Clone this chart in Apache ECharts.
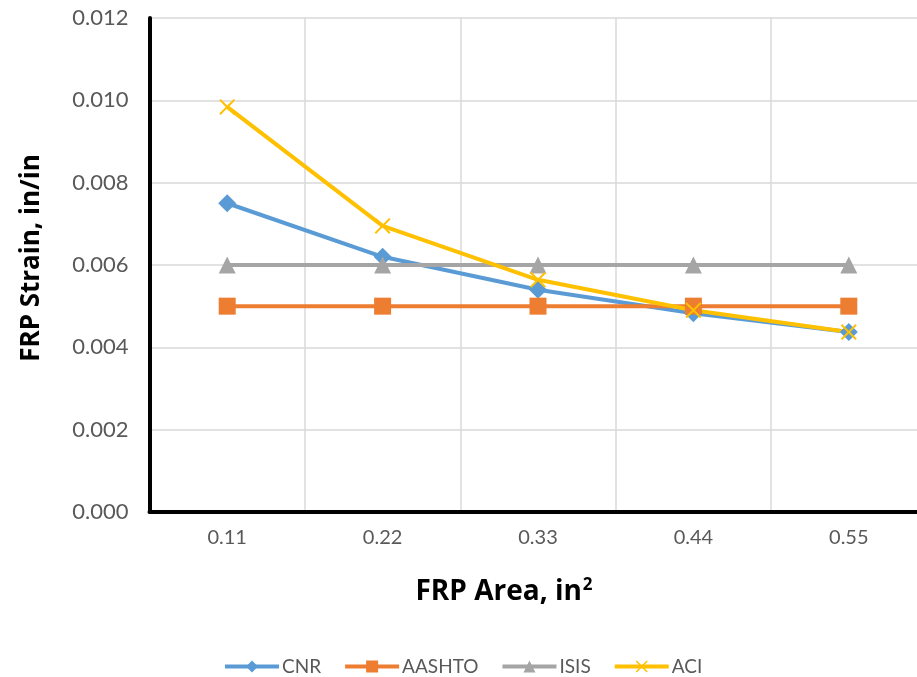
<!DOCTYPE html>
<html><head><meta charset="utf-8">
<script src="https://cdn.jsdelivr.net/npm/echarts@6/dist/echarts.min.js"></script>
<style>html,body{margin:0;padding:0;background:#fff;overflow:hidden}#c{width:930px;height:677px}</style>
</head><body><div id="c"></div>
<script>
const categories = ["0.11", "0.22", "0.33", "0.44", "0.55"];
const cnr = [0.0075, 0.0062, 0.0054, 0.00483, 0.00437];
const aashto = [0.005, 0.005, 0.005, 0.005, 0.005];
const isis = [0.006, 0.006, 0.006, 0.006, 0.006];
const aci = [0.00984, 0.00695, 0.00564, 0.0049, 0.00437];
const yTicks = [0, 0.002, 0.004, 0.006, 0.008, 0.010, 0.012];

const F = "Lato, 'Open Sans', sans-serif";
const T = "'Open Sans', Lato, sans-serif";
const xPath = 'path://M0,0.9L0.9,0L5,4.1L9.1,0L10,0.9L5.9,5L10,9.1L9.1,10L5,5.9L0.9,10L0,9.1L4.1,5Z';

const chart = echarts.init(document.getElementById('c'), null, {renderer: 'canvas'});
function mk(name, data, color, symbol, size) {
  return {
    name, type: 'line', data, symbol, symbolSize: size,
    lineStyle: {color, width: 4},
    itemStyle: {color, opacity: 1},
    emphasis: {disabled: true},
    animation: false
  };
}
chart.setOption({
  animation: false,
  textStyle: {fontFamily: F},
  grid: {left: 149.5, right: 3.5, top: 18, bottom: 165, containLabel: false},
  legend: {
    top: 652, left: 218, itemWidth: 54, itemHeight: 15, itemGap: 22,
    lineStyle: {width: 4},
    textStyle: {fontFamily: F, fontSize: 19, color: '#595959', padding: [0, 0, 0, -2]},
    data: ['CNR', 'AASHTO', 'ISIS', 'ACI']
  },
  xAxis: {
    type: 'category', data: categories, boundaryGap: true,
    axisLine: {lineStyle: {color: '#000', width: 4}},
    axisTick: {show: false},
    axisLabel: {color: '#595959', fontSize: 20, margin: 16, fontFamily: F},
    splitLine: {show: true, interval: 0, lineStyle: {color: '#d9d9d9', width: 1.5}},
    name: 'FRP Area, in{s|2}', nameLocation: 'middle', nameGap: 65,
    nameTextStyle: {fontSize: 28, fontWeight: 'bold', color: '#000', fontFamily: T, padding: [0, 68, 0, 0],
      rich: {s: {fontSize: 17, fontWeight: 'bold', color: '#000', verticalAlign: 'top', padding: [0, 0, 14, 1], fontFamily: T}}}
  },
  yAxis: {
    type: 'value', min: 0, max: 0.012, interval: 0.002,
    axisLine: {show: true, lineStyle: {color: '#000', width: 4}},
    axisTick: {show: false},
    axisLabel: {color: '#595959', fontSize: 22, margin: 21, fontFamily: F,
      formatter: v => { const t = yTicks.find(k => Math.abs(k - v) < 1e-9); return (t !== undefined ? t : v).toFixed(3); }},
    splitLine: {lineStyle: {color: '#d9d9d9', width: 1.5}},
    name: 'FRP Strain, in/in', nameLocation: 'middle', nameGap: 105,
    nameTextStyle: {fontSize: 26, fontWeight: 'bold', color: '#000', fontFamily: T, padding: [0, 0, 0, 14]}
  },
  series: [
    mk('CNR', cnr, '#5B9BD5', 'diamond', 18),
    mk('AASHTO', aashto, '#ED7D31', 'rect', 17),
    mk('ISIS', isis, '#A5A5A5', 'triangle', 17),
    mk('ACI', aci, '#FFC000', xPath, 16)
  ]
});
</script></body></html>
